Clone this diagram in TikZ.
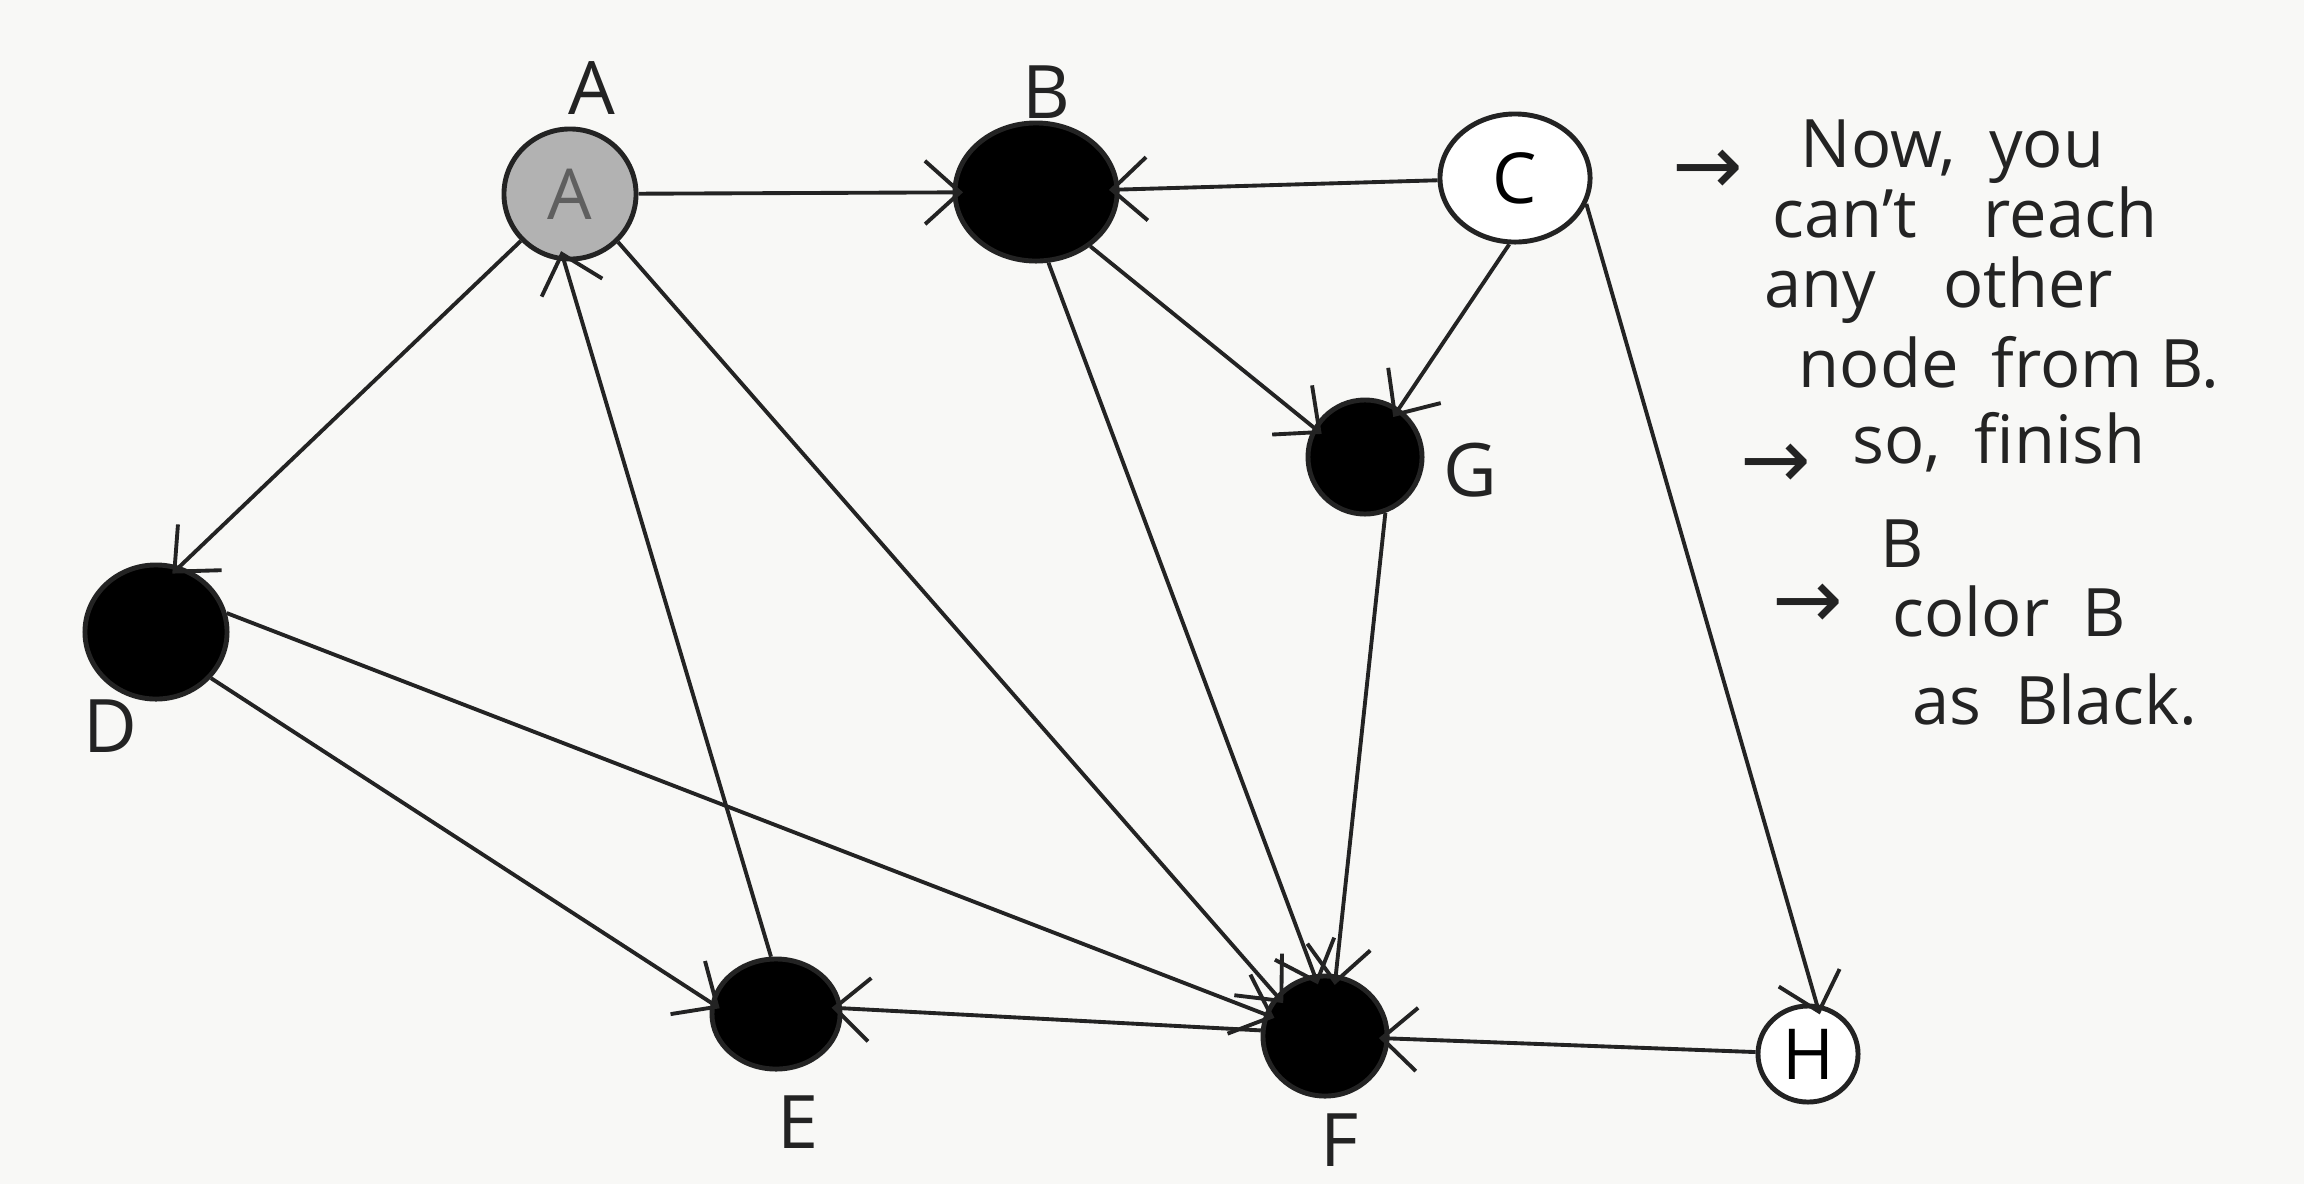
\documentclass[tikz,border=0pt]{standalone}
\usepackage{fontspec}
\setmainfont{Open Sans}
\newfontfamily\symfont{DejaVu Sans}
\usetikzlibrary{arrows.meta,shapes.geometric}
\definecolor{paper}{RGB}{248,248,246}
\definecolor{ink}{RGB}{35,35,35}
\definecolor{visited}{RGB}{178,178,178}
\definecolor{visitedtext}{RGB}{95,95,95}
\tikzset{
  vtx/.style={ellipse, draw=ink, line width=1.4pt, inner sep=0pt,
    font=\fontsize{20}{20}\selectfont},
  blackv/.style={vtx, fill=black},
  whitev/.style={vtx, fill=white},
  grayv/.style={vtx, fill=visited, text=visitedtext},
  lbl/.style={font=\fontsize{21}{21}\selectfont, text=ink, inner sep=0pt},
  note/.style={font=\fontsize{19}{19}\selectfont, text=ink, anchor=west, inner sep=0pt},
  notearrow/.style={font=\symfont\fontsize{24}{24}\selectfont, text=ink, anchor=west, inner sep=0pt},
  edge/.style={draw=ink, line width=1.1pt,
    -{Straight Barb[length=10pt,width=18pt,line width=1.1pt]}, shorten >=-3pt}
}
\begin{document}
\begin{tikzpicture}[x=0.01cm, y=-0.01cm]
\path[use as bounding box, fill=paper] (0,0) rectangle (2304,1184);

% vertices
\node[grayv, minimum width=1.32cm, minimum height=1.30cm] (nA) at (570,194) {A};
\node[blackv, minimum width=1.62cm, minimum height=1.38cm] (nB) at (1036,192) {};
\node[whitev, minimum width=1.50cm, minimum height=1.28cm] (nC) at (1515,178) {C};
\node[blackv, minimum width=1.14cm, minimum height=1.14cm] (nG) at (1365,457) {};
\node[blackv, minimum width=1.42cm, minimum height=1.34cm] (nD) at (156,632) {};
\node[blackv, minimum width=1.28cm, minimum height=1.10cm] (nE) at (776,1014) {};
\node[blackv, minimum width=1.24cm, minimum height=1.20cm] (nF) at (1325,1036) {};
\node[whitev, minimum width=1.00cm, minimum height=0.96cm] (nH) at (1808,1054) {H};

% vertex labels
\node[lbl] (lA) at (592,88) {A};
\node[lbl] (lB) at (1046,92) {B};
\node[lbl] (lG) at (1470,470) {G};
\node[lbl] (lD) at (110,726) {D};
\node[lbl] (lE) at (798,1122) {E};
\node[lbl] (lF) at (1340,1140) {F};

% edges
\draw[edge] (nA) -- (nB);
\draw[edge] (nC) -- (nB);
\draw[edge] (nA) -- (nD.70);
\draw[edge] (nE.95) -- (nA.265);
\draw[edge] (nA.315) -- (nF.140);
\draw[edge] (nB.315) -- (nG.150);
\draw[edge] (nC.265) -- (nG.55);
\draw[edge] (nB.280) -- (nF.100);
\draw[edge] (nG.290) -- (nF.80);
\draw[edge] (nC.340) -- (nH.80);
\draw[edge] (nH) -- (nF);
\draw[edge] (nF.175) -- (nE.5);
\draw[edge] (nD.320) -- (nE.170);
\draw[edge] (nD.15) -- (nF.160);

% notes
\node[notearrow] (a1) at (1672,172) {→};
\node[note] (t1) at (1800,152) {Now,\enspace you};
\node[note] (t2) at (1772,212) {can't\quad reach};
\node[note] (t3) at (1764,290) {any\quad other};
\node[note] (t4) at (1798,362) {node\enspace from B.};
\node[notearrow] (a2) at (1740,466) {→};
\node[note] (t5) at (1852,442) {so,\enspace finish};
\node[note] (t6) at (1880,544) {B};
\node[notearrow] (a3) at (1772,606) {→};
\node[note] (t7) at (1892,611) {color\enspace B};
\node[note] (t8) at (1912,700) {as\enspace Black.};
\end{tikzpicture}
\end{document}
